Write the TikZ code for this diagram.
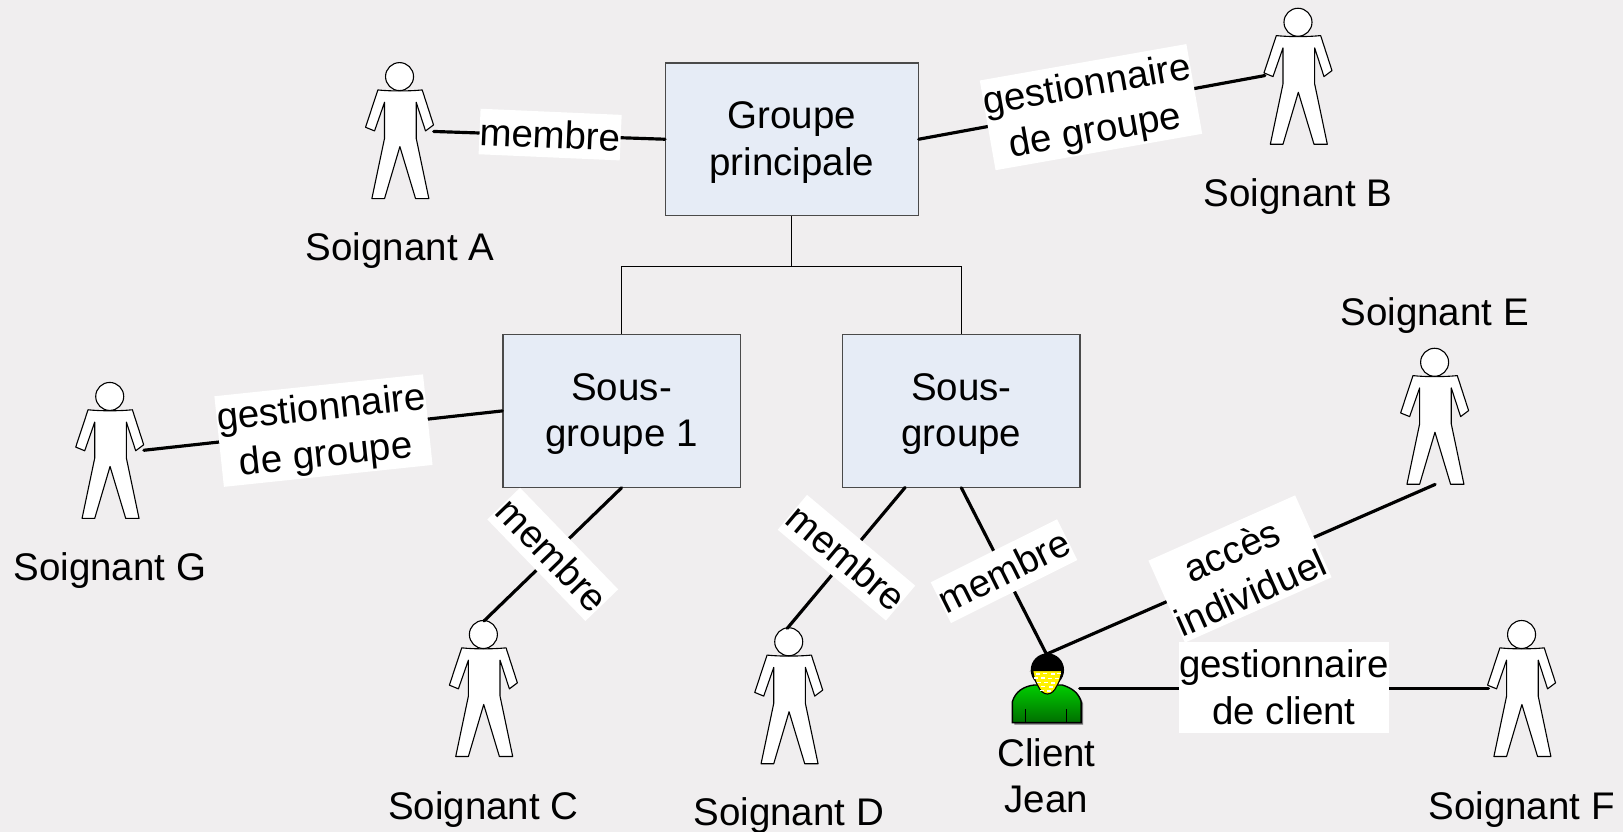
\documentclass[tikz,border=0pt]{standalone}
\usepackage{fontspec}
\setmainfont{Liberation Sans}
\definecolor{bgc}{HTML}{F0EEEF}
\definecolor{boxc}{HTML}{E6ECF6}
\definecolor{edgec}{HTML}{4A4A4A}
\definecolor{shirttop}{HTML}{00CC00}
\definecolor{shirtbot}{HTML}{006E00}
\newcommand{\dnstrut}{\rule{0pt}{24pt}}
\tikzset{
  txt/.style={font=\fontsize{27.9}{33.75}\selectfont,align=center,inner sep=0pt},
  grp/.style={txt,draw=edgec,fill=boxc,line width=0.9pt,minimum height=110.5pt},
  lab/.style={txt,fill=white},
  lone/.style={lab,minimum width=102pt,minimum height=33pt},
  ltwo/.style={lab,minimum width=151pt,minimum height=66pt},
  conn/.style={line width=2.3pt,line cap=round,draw=black},
  tree/.style={line width=0.8pt,draw=black},
  pics/soignant/.style={code={
    \begin{scope}[scale=0.322]
      \draw[fill=white,line width=0.8pt,line join=round] (-65,40) -- (-102,152) -- (-75,163) -- (-45,77) -- (-45,185) -- (-83,366) -- (-45,366) -- (1,210) -- (48,366) -- (88,366) -- (50,185) -- (50,77) -- (78,163) -- (102,145) -- (68,40) .. controls (30,44) and (-30,44) .. cycle;
      \draw[fill=white,line width=0.8pt] (0,0) circle[radius=42];
    \end{scope}}},
  pics/clienticon/.style={code={
    \begin{scope}[scale=0.322]
      \fill[black!55] (-99,164) -- (-99,101) .. controls (-90,70) and (-65,55) .. (-34,51) -- (51,51) .. controls (80,60) and (100,75) .. (107,101) -- (107,164) -- cycle;
      \draw[line width=1pt,top color=shirttop,bottom color=shirtbot] (-105,158) -- (-105,95) .. controls (-96,64) and (-71,49) .. (-40,45) -- (45,45) .. controls (74,54) and (94,69) .. (101,95) -- (101,158) -- cycle;
      \draw[line width=0.8pt] (-65,118) -- (-65,158) (58,118) -- (58,158);
      \fill[black] (0,0) circle[radius=50];
      \draw[fill=yellow,line width=0.8pt] (-44,2) -- (43,2) .. controls (41,25) and (33,40) .. (28,48) .. controls (22,62) and (12,72) .. (0,72) .. controls (-12,72) and (-22,62) .. (-28,48) .. controls (-33,40) and (-41,25) .. cycle;
      \foreach \dx/\dy in {-28/12,-6/10,16/12,34/10,-34/24,-14/24,8/25,28/25,-26/37,-4/37,18/38,-12/49,10/50,-16/61,4/62}
        \fill[white] (\dx-6,\dy-2.5) rectangle (\dx+6,\dy+2.5);
    \end{scope}}}
}
\begin{document}
\begin{tikzpicture}[x=0.75pt,y=-0.75pt]
\useasboundingbox (0,0) rectangle (1568,803.8);
\fill[bgc] (0,0) rectangle (1568,803.8);

% groups
\node[grp,minimum width=183pt] (main) at (765,134.5) {\dnstrut Groupe\\principale};
\node[grp,minimum width=172pt] (sub1) at (600.5,397) {\dnstrut Sous-\\groupe 1};
\node[grp,minimum width=172pt] (sub2) at (928.8,397) {\dnstrut Sous-\\groupe};

\draw[tree] (sub1.north) -- ++(0,-65.3) coordinate (busl) -| (sub2.north);
\draw[tree] (main.south) -- (main.south |- busl);

% people
\pic at (386,74) {soignant};
\pic at (1254,21.5) {soignant};
\pic at (467,613) {soignant};
\pic at (762,620) {soignant};
\pic at (1386,350) {soignant};
\pic at (1470,613) {soignant};
\pic at (106,383) {soignant};
\pic at (1011.9,647.3) {clienticon};

\coordinate (ha) at (419,127);
\coordinate (hb) at (1222,73);
\coordinate (hg) at (139,435);
\coordinate (hc) at (467.5,600);
\coordinate (hd) at (760.6,607);
\coordinate (he) at (1386.5,468);
\coordinate (hf) at (1438,665);
\coordinate (cl) at (1011,632);
\coordinate (cr) at (1043,665);
\coordinate (sd) at (874.4,471);

% connectors
\draw[conn] (ha) -- (main.west);
\draw[conn] (main.east) -- (hb);
\draw[conn] (hg) -- (sub1.west);
\draw[conn] (sub1.south) -- (hc);
\draw[conn] (sd) -- (hd);
\draw[conn] (sub2.south) -- (cl);
\draw[conn] (cl) -- (he);
\draw[conn] (cr) -- (hf);

% connector labels
\node[lone,rotate=-2.5] (l1) at (531.5,130) {membre};
\node[ltwo,rotate=10] (l2) at (1054,103.5) {\dnstrut gestionnaire\\de groupe};
\node[ltwo,rotate=6] (l3) at (312.5,416) {\dnstrut gestionnaire\\de groupe};
\node[lone,rotate=-46] (l4) at (534,535.6) {membre};
\node[lone,rotate=-40] (l5) at (817.8,538.8) {membre};
\node[lone,rotate=26.5] (l6) at (970,551.8) {membre};
\node[lab,minimum width=116pt,minimum height=65pt,rotate=24] (l7) at (1198,549.7) {\dnstrut accès\\individuel};
\node[ltwo,minimum width=152pt] (l8) at (1240.5,664) {gestionnaire\\de client};

% names
\node[txt] (na) at (386.5,242) {Soignant A};
\node[txt] (nb) at (1254,190) {Soignant B};
\node[txt] (nc) at (467,782) {Soignant C};
\node[txt] (nd) at (762,788) {Soignant D};
\node[txt] (ne) at (1386,305) {Soignant E};
\node[txt] (nf) at (1470,782) {Soignant F};
\node[txt] (ng) at (106,551) {Soignant G};
\node[txt] (nj) at (1011,749.5) {Client\\Jean};
\end{tikzpicture}
\end{document}
